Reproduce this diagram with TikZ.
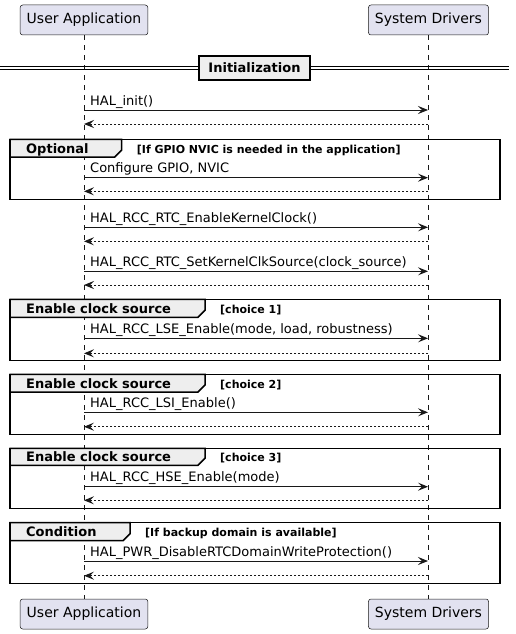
\documentclass[tikz,border=0pt]{standalone}
\usepackage{fontspec}
\setmainfont{DejaVu Sans}
\usetikzlibrary{arrows.meta}
\definecolor{partfill}{HTML}{E2E2F0}
\definecolor{partdraw}{HTML}{181818}
\definecolor{tabfill}{HTML}{EEEEEE}
\definecolor{lifecol}{HTML}{181818}
\tikzset{
  participant/.style={draw=partdraw, line width=0.5pt, fill=partfill, rounded corners=2.5pt,
    minimum height=30pt, inner xsep=6.5pt, inner ysep=0pt, font=\fontsize{14}{16}\selectfont},
  lifeline/.style={draw=lifecol, line width=0.5pt, dash pattern=on 5pt off 5pt},
  msg/.style={draw=partdraw, line width=1pt, -{Stealth[length=10pt,width=8pt,inset=4pt]}},
  ret/.style={msg, dash pattern=on 2pt off 2pt},
  msglabel/.style={anchor=base west, inner sep=0pt, font=\fontsize{13}{15}\selectfont},
  framebox/.style={line width=1.5pt, draw=black},
  tabbox/.style={line width=1.5pt, draw=black, fill=tabfill},
  frametitle/.style={anchor=base west, inner sep=0pt, font=\fontsize{13}{15}\selectfont\bfseries},
  guard/.style={anchor=base west, inner sep=0pt, font=\fontsize{11}{13}\selectfont\bfseries},
  divbox/.style={draw=black, fill=tabfill, line width=1.5pt, minimum width=111pt, minimum height=24pt,
    inner sep=0pt, font=\fontsize{13}{15}\selectfont\bfseries},
}
% #1 name, #2 top, #3 bottom, #4 tab bottom, #5 tab right, #6 title, #7 guard
\newcommand{\seqframe}[7]{%
  \draw[framebox] (10,#2) rectangle (500,#3);
  \draw[tabbox] (10,#2) -- (#5,#2) -- (#5,#4-7) -- (#5-7,#4) -- (10,#4) -- cycle;
  \node[frametitle] (#1t) at (26,#4-4) {#6};
  \node[guard] (#1g) at (#5+15,#4-4) {#7};
}
% #1 name, #2 call y, #3 return y, #4 label
\newcommand{\seqmsg}[4]{%
  \coordinate (#1a) at (84,#2);
  \coordinate (#1b) at (428,#2);
  \coordinate (#1c) at (84,#3);
  \coordinate (#1d) at (428,#3);
  \draw[msg] (#1a) -- (#1b);
  \draw[ret] (#1d) -- (#1c);
  \node[msglabel] (#1l) at (90,#2-5) {#4};
}
\begin{document}
\begin{tikzpicture}[x=1pt,y=-1pt]
\useasboundingbox (0,0) rectangle (515,634);
\node[participant] (ua) at (84,20) {User Application};
\node[participant] (sd) at (428.5,20) {System Drivers};
\node[participant] (uab) at (84,614) {User Application};
\node[participant] (sdb) at (428.5,614) {System Drivers};
\draw[lifeline] (ua) -- (uab);
\draw[lifeline] (sd) -- (sdb);
% divider
\draw[line width=0.8pt] (0,66.5) -- (509,66.5);
\draw[line width=0.8pt] (0,69.5) -- (509,69.5);
\node[divbox] (init) at (254.5,68) {Initialization};
\seqmsg{m1}{110}{124}{HAL\_init()}
\seqframe{f1}{139.3}{199.3}{157}{121.7}{Optional}{[If GPIO NVIC is needed in the application]}
\seqmsg{m2}{177.7}{191.3}{Configure GPIO, NVIC}
\seqmsg{m3}{227.3}{241.3}{HAL\_RCC\_RTC\_EnableKernelClock()}
\seqmsg{m4}{271.3}{285}{HAL\_RCC\_RTC\_SetKernelClkSource(clock\_source)}
\seqframe{f2}{299.3}{360.7}{317.3}{205}{Enable clock source}{[choice 1]}
\seqmsg{m5}{338.3}{353.3}{HAL\_RCC\_LSE\_Enable(mode, load, robustness)}
\seqframe{f3}{374.3}{434.3}{392}{205}{Enable clock source}{[choice 2]}
\seqmsg{m6}{412.3}{426.7}{HAL\_RCC\_LSI\_Enable()}
\seqframe{f4}{448.3}{508.3}{465.3}{205}{Enable clock source}{[choice 3]}
\seqmsg{m7}{486.7}{500.3}{HAL\_RCC\_HSE\_Enable(mode)}
\seqframe{f5}{522.7}{583.3}{540.7}{130}{Condition}{[If backup domain is available]}
\seqmsg{m8}{561}{575.7}{HAL\_PWR\_DisableRTCDomainWriteProtection()}
\end{tikzpicture}
\end{document}
